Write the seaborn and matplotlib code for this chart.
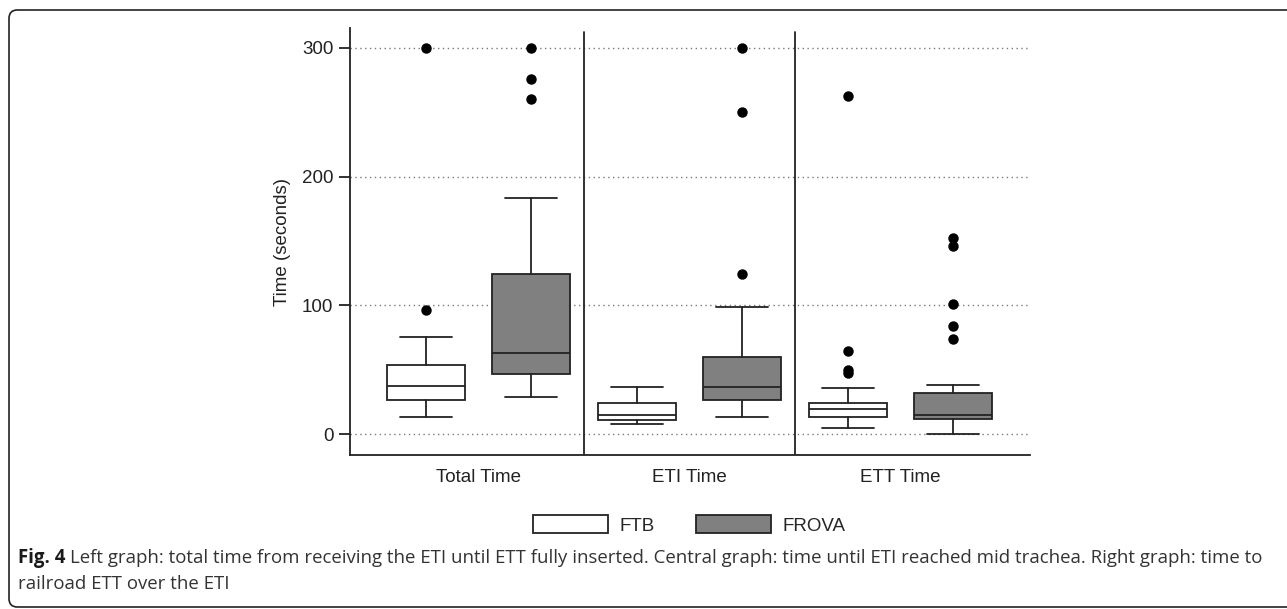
import matplotlib
matplotlib.use("Agg")
import matplotlib.pyplot as plt
import seaborn as sns
from matplotlib.patches import Patch, FancyBboxPatch

# box summaries (seconds)
groups = ["Total Time", "ETI Time", "ETT Time"]

ftb_whislo = [13.7, 7.8, 4.9]
ftb_q1 = [26.9, 10.9, 13.7]
ftb_med = [37.2, 14.7, 19.9]
ftb_q3 = [54.1, 24.1, 24.1]
ftb_whishi = [75.8, 37.0, 35.7]
ftb_fliers = [[96.7, 300], [], [47.9, 49.9, 64.7, 262.8]]

frova_whislo = [28.7, 13.7, 0.0]
frova_q1 = [47.1, 26.9, 12.2]
frova_med = [63.1, 36.5, 15.3]
frova_q3 = [124.4, 59.8, 32.1]
frova_whishi = [183.4, 99.1, 38.3]
frova_fliers = [[260.5, 276, 300], [124.2, 249.9, 300], [73.7, 84.1, 100.9, 145.9, 152.1]]

yticks = [0, 100, 200, 300]

sns.set_theme(style="white")
plt.rcParams["font.family"] = ["Liberation Sans", "DejaVu Sans"]

W, H = 1287, 609
fig = plt.figure(figsize=(W / 100, H / 100), dpi=100)
ax = fig.add_axes([350 / W, 1 - 455 / H, 680 / W, 427 / H])

ink = "#222222"
lw = 1.3
fills = {"FTB": "white", "FROVA": "#808080"}


def make_stats(lo, q1, med, q3, hi, fl):
    return [dict(whislo=a, q1=b, med=c, q3=d, whishi=e, fliers=f)
            for a, b, c, d, e, f in zip(lo, q1, med, q3, hi, fl)]


series = {
    "FTB": make_stats(ftb_whislo, ftb_q1, ftb_med, ftb_q3, ftb_whishi, ftb_fliers),
    "FROVA": make_stats(frova_whislo, frova_q1, frova_med, frova_q3, frova_whishi, frova_fliers),
}
offsets = {"FTB": -0.249, "FROVA": 0.249}

for name, st in series.items():
    pos = [i + offsets[name] for i in range(len(groups))]
    ax.bxp(st, positions=pos, widths=0.37, capwidths=0.246, patch_artist=True,
           boxprops=dict(facecolor=fills[name], edgecolor=ink, linewidth=lw),
           medianprops=dict(color=ink, linewidth=lw),
           whiskerprops=dict(color=ink, linewidth=lw),
           capprops=dict(color=ink, linewidth=lw),
           flierprops=dict(marker="o", markerfacecolor="black", markeredgecolor="black",
                           markersize=6.5, linestyle="none"),
           zorder=3)

ax.set_xlim(-0.609, 2.614)
ax.set_ylim(-16.1, 315.3)
ax.set_yticks(yticks)
ax.set_xticks(range(len(groups)))
ax.set_xticklabels(groups)
ax.yaxis.grid(True, linestyle=(0, (1, 2.5)), color="#7a7a7a", linewidth=1.0)
ax.xaxis.grid(False)
ax.set_axisbelow(True)

for x in [0.5, 1.5]:
    ax.axvline(x, ymin=0, ymax=0.99, color=ink, linewidth=lw, zorder=2)

for s in ["top", "right"]:
    ax.spines[s].set_visible(False)
for s in ["left", "bottom"]:
    ax.spines[s].set_color(ink)
    ax.spines[s].set_linewidth(lw)

ax.tick_params(axis="y", length=8, width=lw, color=ink, pad=4, labelsize=13.5, labelcolor=ink, left=True)
ax.tick_params(axis="x", length=0, pad=10, labelsize=13.5, labelcolor=ink)
ax.set_ylabel("Time (seconds)", fontsize=13.5, color=ink)
ax.yaxis.set_label_coords(-0.0868, 0.5)

handles = [Patch(facecolor=fills[n], edgecolor=ink, linewidth=lw) for n in series]
fig.legend(handles, list(series), loc="center", bbox_to_anchor=(689 / W, 1 - 525 / H),
           ncol=2, frameon=False, fontsize=13.5, handlelength=4.0, handleheight=1.1,
           handletextpad=0.6, columnspacing=2.2)

# rounded frame open on the right
frame = FancyBboxPatch((9 / W, 1 - 607 / H), 1.02 - 9 / W, 597 / H,
                       boxstyle="round,pad=0,rounding_size=0.0065", mutation_aspect=W / H,
                       transform=fig.transFigure, facecolor="none", edgecolor=ink,
                       linewidth=1.2, clip_on=False)
fig.patches.append(frame)

# caption
cap_font = ["Open Sans", "DejaVu Sans"]
cap_size = 13.4
t1 = fig.text(18 / W, 1 - 563 / H, "Fig. 4", family=cap_font, weight="bold",
              fontsize=cap_size, color="#1a1a1a", va="baseline")
fig.canvas.draw()
bb = t1.get_window_extent(fig.canvas.get_renderer())
fig.text((bb.x1 + 5) / W, 1 - 563 / H,
         "Left graph: total time from receiving the ETI until ETT fully inserted. "
         "Central graph: time until ETI reached mid trachea. Right graph: time to",
         family=cap_font, fontsize=cap_size, color="#333333", va="baseline")
fig.text(18 / W, 1 - 589 / H, "railroad ETT over the ETI", family=cap_font,
         fontsize=cap_size, color="#333333", va="baseline")

fig.savefig("out.png", dpi=100)
